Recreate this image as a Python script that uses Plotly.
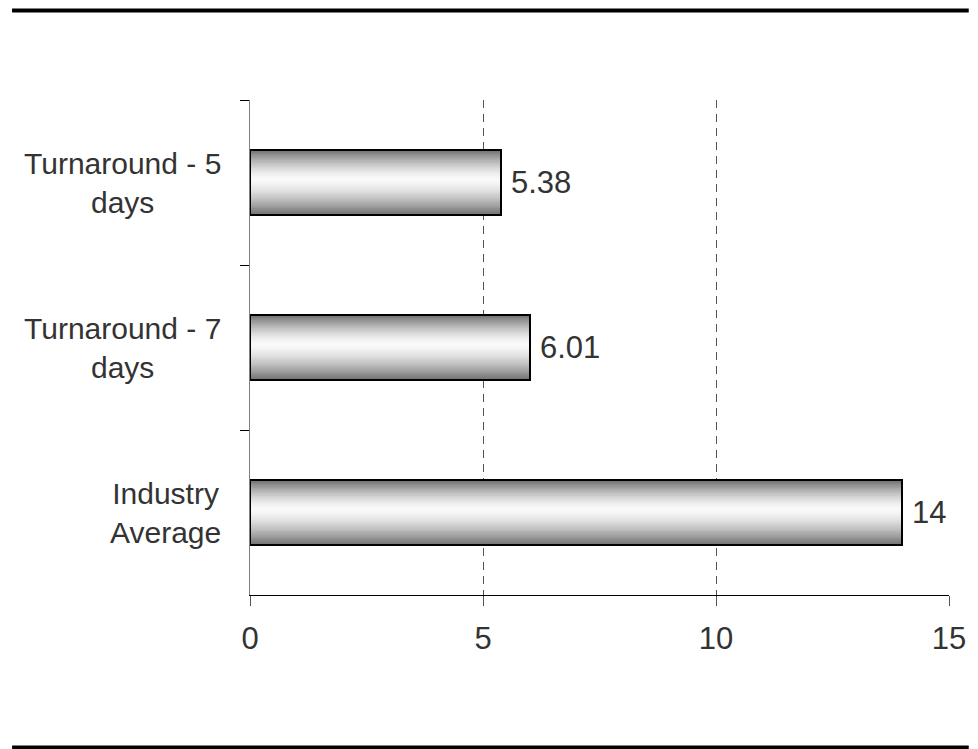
import plotly.graph_objects as go

# ---- data ----
categories = ["Turnaround - 5 days", "Turnaround - 7 days", "Industry Average"]
category_labels = ["Turnaround - 5<br>days", "Turnaround - 7<br>days", "Industry<br>Average"]
values = [5.38, 6.01, 14]
x_ticks = [0, 5, 10, 15]

FONT = "Liberation Sans, Arial, sans-serif"
TXT = "#333333"
W = 0.39          # bar thickness in category units
N = 40            # gradient layers
PEAK = 0.45       # position of brightest band (0 = top edge, 1 = bottom edge)

fig = go.Figure()

# gradient fill: overlaid bars shrinking toward the bright band
for k in range(N):
    f = k / N
    t_top = f * PEAK
    t_bot = 1 - f * (1 - PEAK)
    d = 1 - f
    b = int(round(250 - 135 * d ** 1.5))
    fig.add_trace(go.Bar(
        y=categories, x=values, orientation="h",
        width=W * (t_bot - t_top), offset=-W / 2 + W * t_top,
        marker=dict(color=f"rgb({b},{b},{b})", line=dict(width=0)),
        hoverinfo="skip", showlegend=False,
    ))

# outline
fig.add_trace(go.Bar(
    y=categories, x=values, orientation="h", width=W,
    marker=dict(color="rgba(0,0,0,0)", line=dict(color="black", width=2)),
    showlegend=False,
))

annotations = []
for i, lab in enumerate(category_labels):
    annotations.append(dict(
        xref="paper", x=0, yref="y", y=i, xanchor="right", yanchor="middle",
        xshift=-27, align="center", text=lab, showarrow=False,
        font=dict(family=FONT, size=30, color=TXT),
    ))
for i, v in enumerate(values):
    annotations.append(dict(
        xref="x", x=v, yref="y", y=i, xanchor="left", yanchor="middle",
        xshift=8, text=f"{v:g}", showarrow=False,
        font=dict(family=FONT, size=31, color=TXT),
    ))

shapes = [
    dict(type="line", xref="paper", yref="paper",
         x0=(9 - 250) / 708, x1=(978 - 250) / 708,
         y0=(595 - 10.5) / 495, y1=(595 - 10.5) / 495,
         line=dict(color="black", width=4)),
    dict(type="line", xref="paper", yref="paper",
         x0=(9 - 250) / 708, x1=(978 - 250) / 708,
         y0=(595 - 747.5) / 495, y1=(595 - 747.5) / 495,
         line=dict(color="black", width=4)),
]

fig.update_layout(
    width=978, height=749,
    margin=dict(l=250, r=20, t=100, b=154),
    paper_bgcolor="white", plot_bgcolor="white",
    barmode="overlay", bargap=0,
    font=dict(family=FONT, size=31, color=TXT),
    annotations=annotations, shapes=shapes,
    xaxis=dict(
        range=[0, 15], tickvals=x_ticks, ticks="outside", ticklen=10,
        tickcolor="#555555", tickwidth=1, ticklabelstandoff=6,
        showline=True, linecolor="black", linewidth=1,
        showgrid=True, gridcolor="#555555", griddash="8px,6px", gridwidth=1,
        zeroline=False, tickfont=dict(family=FONT, size=31, color=TXT),
        fixedrange=True,
    ),
    yaxis=dict(
        type="category", categoryarray=categories, range=[2.5, -0.5],
        tickson="boundaries", ticks="outside", ticklen=9,
        tickcolor="black", showticklabels=False,
        showline=True, linecolor="#808080", linewidth=1,
        showgrid=False, zeroline=False, fixedrange=True,
    ),
)

fig.write_html("out.html")
